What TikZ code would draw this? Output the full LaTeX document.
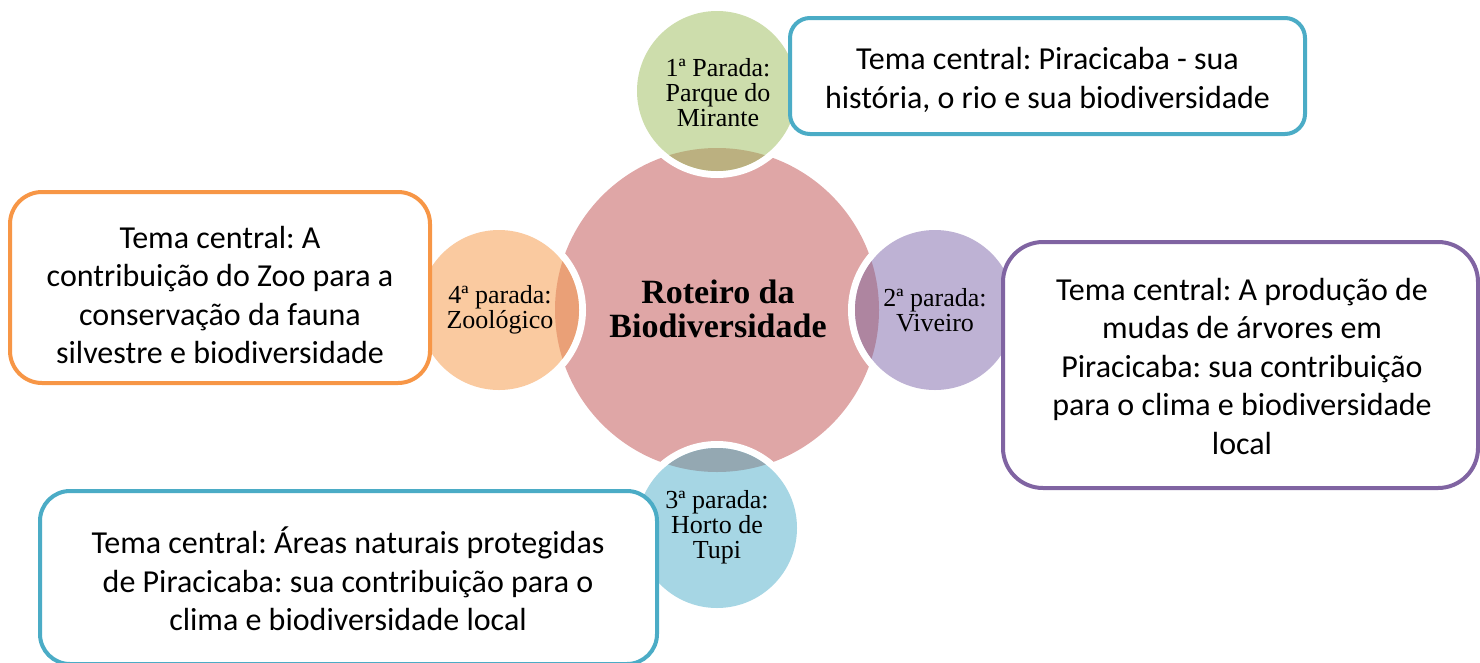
\documentclass[tikz,border=0pt]{standalone}
\usepackage{fontspec}
\setmainfont{Liberation Serif}
\newfontfamily\boxfont{Carlito}
\frenchspacing
\definecolor{hubfill}{HTML}{DFA6A6}
\definecolor{greenfill}{HTML}{CDDDAC}
\definecolor{greenov}{HTML}{BBB080}
\definecolor{orangefill}{HTML}{FACAA0}
\definecolor{orangeov}{HTML}{EAA077}
\definecolor{purplefill}{HTML}{BEB2D4}
\definecolor{purpleov}{HTML}{AE85A0}
\definecolor{bluefill}{HTML}{A6D6E4}
\definecolor{blueov}{HTML}{94A8B2}
\definecolor{blueline}{HTML}{4BACC6}
\definecolor{orangeline}{HTML}{F79646}
\definecolor{purpleline}{HTML}{8064A2}
\begin{document}
\begin{tikzpicture}[x=1pt,y=-1pt,
  hubc/.style={circle, fill=hubfill, minimum size=324pt, inner sep=0pt},
  ringc/.style={circle, fill=white, minimum size=174pt, inner sep=0pt},
  stopc/.style={circle, minimum size=160pt, inner sep=0pt},
  stoptext/.style={align=center, font=\fontsize{26}{25}\selectfont, inner sep=0pt},
  hubtext/.style={align=center, font=\fontsize{34}{33.5}\selectfont\bfseries, inner sep=0pt},
  themebox/.style={rectangle, draw, line width=4pt, fill=white, inner sep=0pt},
  boxtext/.style={align=center, font=\boxfont\fontsize{32}{38.5}\selectfont, inner sep=0pt}]
\useasboundingbox (0,0) rectangle (1480,662);

% central circle
\node[hubc] (hub) at (717,310) {};

% white rings
\node[ringc] (ring1) at (717,91) {};
\node[ringc] (ring2) at (935,310) {};
\node[ringc] (ring3) at (717,528) {};
\node[ringc] (ring4) at (499,310) {};

% stops
\node[stopc, fill=greenfill] (s1) at (717,91) {};
\node[stopc, fill=purplefill] (s2) at (935,310) {};
\node[stopc, fill=bluefill] (s3) at (717,528) {};
\node[stopc, fill=orangefill] (s4) at (499,310) {};

% overlaps
\begin{scope}
  \clip (hub.center) circle[radius=162pt];
  \fill[greenov] (s1.center) circle[radius=80pt];
  \fill[purpleov] (s2.center) circle[radius=80pt];
  \fill[blueov] (s3.center) circle[radius=80pt];
  \fill[orangeov] (s4.center) circle[radius=80pt];
\end{scope}

% texts in circles
\node[hubtext] (hubt) at (718,309) {Roteiro da\\Biodiversidade};
\node[stoptext] (t1) at (718,93) {1ª Parada:\\Parque do\\Mirante};
\node[stoptext] (t2) at (935,310) {2ª parada:\\Viveiro};
\node[stoptext] (t3) at (717,527) {3ª parada:\\Horto de\\Tupi};
\node[stoptext] (t4) at (500,310) {4ª parada:\\Zoológico};

% theme boxes
\node[themebox, draw=blueline, minimum width=515pt, minimum height=116pt, rounded corners=20pt] (b1) at (1047.5,76) {};
\node[boxtext] (bt1) at (1047.5,80)
  {Tema central: Piracicaba - sua\\história, o rio e sua biodiversidade};
\node[themebox, draw=purpleline, minimum width=475pt, minimum height=246pt, rounded corners=40pt] (b2) at (1240.5,365) {};
\node[boxtext] (bt2) at (1242,366)
  {Tema central: A produção de\\mudas de árvores em\\Piracicaba: sua contribuição\\para o clima e biodiversidade\\local};
\node[themebox, draw=blueline, minimum width=617pt, minimum height=173pt, rounded corners=30pt] (b3) at (348.5,577.5) {};
\node[boxtext] (bt3) at (348,579)
  {Tema central: Áreas naturais protegidas\\de Piracicaba: sua contribuição para o\\clima e biodiversidade local};
\node[themebox, draw=orangeline, minimum width=420pt, minimum height=191pt, rounded corners=32pt] (b4) at (220,287.5) {};
\node[boxtext] (bt4) at (220,295)
  {Tema central: A\\contribuição do Zoo para a\\conservação da fauna\\silvestre e biodiversidade};
\end{tikzpicture}
\end{document}
